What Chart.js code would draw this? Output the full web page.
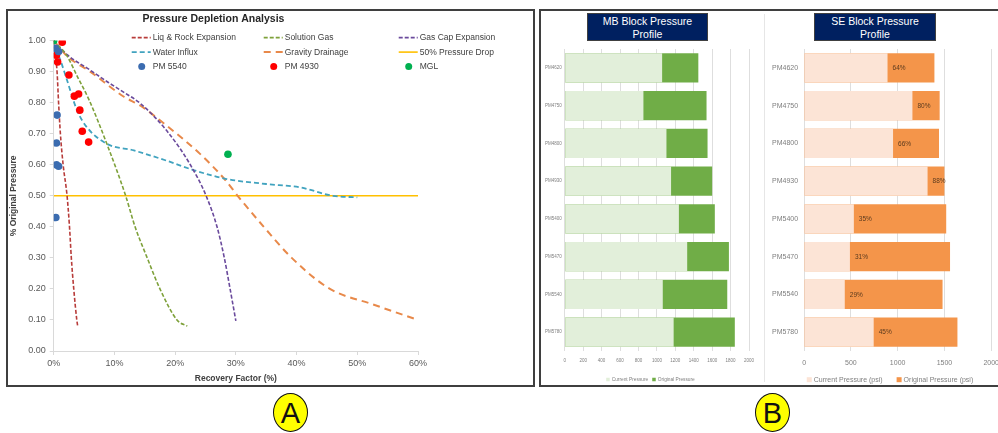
<!DOCTYPE html>
<html>
<head>
<meta charset="utf-8">
<script src="https://cdn.jsdelivr.net/npm/chart.js@4.4.1/dist/chart.umd.min.js"></script>
<style>
  body { margin: 0; background: #fff; width: 998px; height: 433px; position: relative; overflow: hidden;
         font-family: Arial, "Liberation Sans", sans-serif; }
  .panel { position: absolute; border: 2px solid #3f3f3f; box-sizing: border-box; }
  #panelA { left: 6px; top: 9px; width: 529px; height: 378px; }
  #panelB { left: 539px; top: 9px; width: 470px; height: 378px; }
  .sep { position: absolute; left: 764px; top: 14px; width: 1px; height: 368px; background: #e6e6e6; }
  canvas { position: absolute; }
  .head { position: absolute; background: #002060; color: #fff; text-align: center; font-size: 10.5px;
          line-height: 13px; padding-top: 1px; box-sizing: border-box; border: 1px solid #404040; }
  .tag { position: absolute; width: 35px; height: 39px; box-sizing: border-box; border: 1.5px solid #111;
         border-radius: 50%; background: #ffff00; text-align: center; line-height: 38px;
         font-family: "Liberation Sans Narrow", "Arial Narrow", Arial, sans-serif; font-size: 29px; color: #111; }
</style>
</head>
<body>
<div class="panel" id="panelA"></div>
<div class="panel" id="panelB"></div>
<div class="sep"></div>
<canvas id="depletion" width="523" height="372" style="left:9px;top:12px"></canvas>
<canvas id="mbBlock" width="221" height="376" style="left:542px;top:12px"></canvas>
<canvas id="seBlock" width="241" height="376" style="left:766px;top:12px"></canvas>
<div class="head" style="left:587px;top:13px;width:121px;height:28px">MB Block Pressure<br>Profile</div>
<div class="head" style="left:814px;top:13px;width:122px;height:28px">SE Block Pressure<br>Profile</div>
<div class="tag" style="left:273px;top:393px">A</div>
<div class="tag" style="left:755px;top:393px">B</div>
<script>
// Drive mechanism curves: recovery factor (%) vs fraction of original pressure
const liqRockRF = [0, 0.3, 0.55, 0.8, 1.1, 1.55, 2.2, 2.6, 2.9, 3.3, 3.8, 3.95];
const liqRockP = [1.0, 0.95, 0.9, 0.8, 0.7, 0.6, 0.5, 0.4, 0.3, 0.2, 0.1, 0.08];
const solGasRF = [0, 2.2, 4.0, 5.8, 8.7, 11.85, 13.4, 15.4, 17.5, 20.3, 22.0];
const solGasP = [1.0, 0.95, 0.88, 0.81, 0.67, 0.5, 0.4, 0.3, 0.2, 0.1, 0.08];
const gasCapRF = [0, 2.2, 6.0, 9.0, 11.5, 14.3, 18.6, 22.5, 25.1, 26.9, 28.1, 29.05, 30.0];
const gasCapP = [1.0, 0.955, 0.905, 0.865, 0.834, 0.797, 0.71, 0.6, 0.5, 0.4, 0.3, 0.2, 0.097];
const waterRF = [0.3, 1.1, 2.2, 3.85, 5.5, 8.8, 13.2, 18.6, 23.0, 28.5, 35.0, 40.6, 46.0, 50.0];
const waterP = [0.975, 0.937, 0.872, 0.775, 0.72, 0.667, 0.646, 0.613, 0.583, 0.554, 0.538, 0.527, 0.5, 0.495];
const gravityRF = [0, 2.2, 6.0, 11.5, 14.3, 18.6, 24.1, 28.3, 30.3, 34.6, 39.2, 45.5, 52.6, 60.0];
const gravityP = [1.0, 0.95, 0.9, 0.82, 0.79, 0.726, 0.635, 0.55, 0.5, 0.4, 0.3, 0.2, 0.15, 0.1];
const halfRF = [0, 60];
const halfP = [0.5, 0.5];

// Measured well data
const pm5540RF = [0.3, 0.8, 0.55, 0.45, 0.45, 0.8, 0.35];
const pm5540P = [0.975, 0.965, 0.76, 0.67, 0.6, 0.595, 0.43];
const pm4930RF = [1.4, 0.45, 0.65, 2.5, 3.4, 4.1, 4.3, 4.7, 5.75];
const pm4930P = [0.995, 0.953, 0.931, 0.889, 0.821, 0.828, 0.776, 0.708, 0.673];
const mglRF = [0, 28.7];
const mglP = [1.0, 0.634];

const rfTicks = [0, 10, 20, 30, 40, 50, 60];

// Block pressure profiles (psi)
const mbWells = ['PM4620', 'PM4750', 'PM4800', 'PM4930', 'PM5400', 'PM5470', 'PM5540', 'PM5780'];
const mbCurrent = [1057, 854, 1104, 1154, 1239, 1329, 1064, 1182];
const mbOriginal = [1450, 1539, 1550, 1600, 1629, 1782, 1764, 1846];
const seWells = ['PM4620', 'PM4750', 'PM4800', 'PM4930', 'PM5400', 'PM5470', 'PM5540', 'PM5780'];
const seCurrent = [892, 1158, 951, 1320, 532, 490, 435, 744];
const seOriginal = [1393, 1449, 1442, 1500, 1519, 1560, 1480, 1639];

const FONT = 'Arial, "Liberation Sans", sans-serif';
const pts = (xs, ys) => xs.map((x, i) => ({ x: x, y: ys[i] }));

function curve(label, xs, ys, color, dash, width) {
  return {
    label, data: pts(xs, ys), showLine: true, borderColor: color, backgroundColor: color,
    borderDash: dash, borderWidth: width, pointRadius: 0, cubicInterpolationMode: 'monotone', order: 2
  };
}
function wells(label, xs, ys, color) {
  return { label, data: pts(xs, ys), showLine: false, backgroundColor: color, borderColor: color,
           pointRadius: 3.8, pointBorderWidth: 0, order: 0 };
}

// three-column legend laid over the top of the plot
const legendGrid = {
  id: 'legendGrid',
  afterDraw(chart) {
    const { ctx, chartArea } = chart;
    const cols = [78, 210, 345];
    ctx.save();
    ctx.font = '8.5px ' + FONT;
    ctx.textBaseline = 'middle';
    chart.data.datasets.forEach((ds, i) => {
      const x = chartArea.left + cols[i % 3];
      const y = chartArea.top - 3 + Math.floor(i / 3) * 14.5;
      if (ds.showLine) {
        ctx.strokeStyle = ds.borderColor;
        ctx.lineWidth = ds.borderWidth;
        ctx.setLineDash(ds.borderDash || []);
        ctx.beginPath();
        ctx.moveTo(x, y);
        ctx.lineTo(x + 19, y);
        ctx.stroke();
        ctx.setLineDash([]);
      } else {
        ctx.fillStyle = ds.backgroundColor;
        ctx.beginPath();
        ctx.arc(x + 10, y, 3.5, 0, Math.PI * 2);
        ctx.fill();
      }
      ctx.fillStyle = '#404040';
      ctx.fillText(ds.label, x + 21, y + 0.5);
    });
    ctx.restore();
  }
};

new Chart(document.getElementById('depletion'), {
  type: 'scatter',
  data: {
    datasets: [
      curve('Liq & Rock Expansion', liqRockRF, liqRockP, '#b83c3a', [4, 2], 1.6),
      curve('Solution Gas', solGasRF, solGasP, '#7ea13a', [4, 2], 1.6),
      curve('Gas Cap Expansion', gasCapRF, gasCapP, '#6a4a9c', [4, 2], 1.6),
      curve('Water Influx', waterRF, waterP, '#41a3bf', [5, 3], 1.8),
      curve('Gravity Drainage', gravityRF, gravityP, '#e8894a', [7, 5], 2),
      curve('50% Pressure Drop', halfRF, halfP, '#ffc000', [], 1.6),
      wells('PM 5540', pm5540RF, pm5540P, '#3b6cb0'),
      wells('PM 4930', pm4930RF, pm4930P, '#ff0000'),
      wells('MGL', mglRF, mglP, '#00b050')
    ]
  },
  options: {
    responsive: false,
    animation: false,
    layout: { padding: { left: 0, right: 114, top: 0, bottom: 0 } },
    scales: {
      x: {
        type: 'linear', min: 0, max: 60,
        afterBuildTicks: (axis) => { axis.ticks = rfTicks.map(v => ({ value: v })); },
        ticks: { callback: v => v + '%', color: '#595959', font: { size: 9, family: FONT }, padding: 3 },
        grid: { drawOnChartArea: false, drawTicks: true, tickLength: 4, color: '#d9d9d9' },
        border: { color: '#d9d9d9' },
        title: { display: true, text: 'Recovery Factor (%)', color: '#404040',
                 font: { size: 8.5, weight: 'bold', family: FONT }, padding: { top: 2, bottom: 0 } }
      },
      y: {
        min: 0, max: 1,
        ticks: { stepSize: 0.1, callback: v => v.toFixed(2), color: '#595959', font: { size: 9, family: FONT }, padding: 4 },
        grid: { drawOnChartArea: false, drawTicks: true, tickLength: 4, color: '#d9d9d9' },
        border: { color: '#d9d9d9' },
        title: { display: true, text: '% Original Pressure', color: '#404040',
                 font: { size: 8.5, weight: 'bold', family: FONT }, padding: { top: 0, bottom: 5 } }
      }
    },
    plugins: {
      legend: { display: false },
      tooltip: { enabled: false },
      title: { display: true, text: 'Pressure Depletion Analysis', color: '#262626',
               font: { size: 10.5, weight: 'bold', family: FONT }, padding: { top: 1, bottom: 15 } }
    }
  },
  plugins: [legendGrid]
});

// percentage of original pressure written at the start of the original-pressure bar
const pctLabels = {
  id: 'pctLabels',
  afterDatasetsDraw(chart) {
    const cur = chart.data.datasets[0].data;
    const orig = chart.data.datasets[1].data;
    const xs = chart.scales.x;
    const bars = chart.getDatasetMeta(1).data;
    const ctx = chart.ctx;
    ctx.save();
    ctx.font = '6.5px ' + FONT;
    ctx.fillStyle = '#5a3a1e';
    ctx.textBaseline = 'middle';
    bars.forEach((bar, i) => {
      ctx.fillText(Math.round(cur[i] / orig[i] * 100) + '%', xs.getPixelForValue(cur[i]) + 5, bar.y + 0.5);
    });
    ctx.restore();
  }
};

// small legend row under the axis, centred on a given x
const bottomKey = {
  id: 'bottomKey',
  afterDraw(chart, args, opts) {
    const { ctx, chartArea } = chart;
    const box = opts.box, gap = opts.gap;
    ctx.save();
    ctx.font = opts.size + 'px ' + FONT;
    ctx.textBaseline = 'middle';
    const items = chart.data.datasets.map(ds => ({ label: ds.label, color: ds.backgroundColor,
                                                  w: box + 2 + ctx.measureText(ds.label).width }));
    const total = items.reduce((s, it) => s + it.w, 0) + gap * (items.length - 1);
    let x = opts.center - total / 2;
    const y = chartArea.bottom + opts.offset;
    items.forEach(it => {
      ctx.fillStyle = it.color;
      ctx.fillRect(x, y - box / 2, box, box);
      ctx.fillStyle = '#7f7f7f';
      ctx.fillText(it.label, x + box + 2, y + 0.5);
      x += it.w + gap;
    });
    ctx.restore();
  }
};

function blockChart(id, wellsList, current, original, cfg) {
  const tickFont = { size: cfg.fontSize, family: FONT };
  return new Chart(document.getElementById(id), {
    type: 'bar',
    data: {
      labels: wellsList,
      datasets: [
        { label: cfg.curLabel, data: current, backgroundColor: cfg.light, grouped: false,
          categoryPercentage: 1, barPercentage: 0.77 },
        { label: cfg.origLabel, data: original, backgroundColor: cfg.dark, grouped: false,
          categoryPercentage: 1, barPercentage: 0.77 }
      ]
    },
    options: {
      indexAxis: 'y',
      responsive: false,
      animation: false,
      layout: { padding: cfg.padding },
      scales: {
        x: {
          min: 0, max: 2000,
          afterFit: (axis) => { axis.height = cfg.axisH; },
          ticks: { stepSize: cfg.step, color: '#7f7f7f', font: tickFont, padding: cfg.tickPad,
                   maxRotation: 0, autoSkip: false, callback: v => String(v) },
          grid: { color: '#dedede', drawTicks: false },
          border: { display: false }
        },
        y: {
          ticks: { color: '#7f7f7f', font: tickFont, padding: cfg.labelPad },
          grid: { display: false, drawTicks: false },
          border: { display: false }
        }
      },
      plugins: {
        legend: { display: false },
        tooltip: { enabled: false },
        bottomKey: cfg.key
      }
    },
    plugins: [bottomKey].concat(cfg.plugins || [])
  });
}

blockChart('mbBlock', mbWells, mbCurrent, mbOriginal, {
  curLabel: 'Current Pressure', origLabel: 'Original Pressure',
  light: '#e2efda', dark: '#70ad47', step: 200, fontSize: 4.5, labelPad: 3,
  tickPad: 7, axisH: 37,
  key: { center: 108.5, offset: 28.5, box: 3.5, gap: 4, size: 4.8 },
  padding: { top: 37, right: 14, left: 0, bottom: 0 }
});

blockChart('seBlock', seWells, seCurrent, seOriginal, {
  curLabel: 'Current Pressure (psi)', origLabel: 'Original Pressure (psi)',
  light: '#fce4d6', dark: '#f4954a', step: 500, fontSize: 7, labelPad: 6,
  tickPad: 8, axisH: 37,
  key: { center: 124, offset: 28.7, box: 5, gap: 14, size: 7 },
  padding: { top: 37, right: 0, left: 0, bottom: 0 },
  plugins: [pctLabels]
});
</script>
</body>
</html>
